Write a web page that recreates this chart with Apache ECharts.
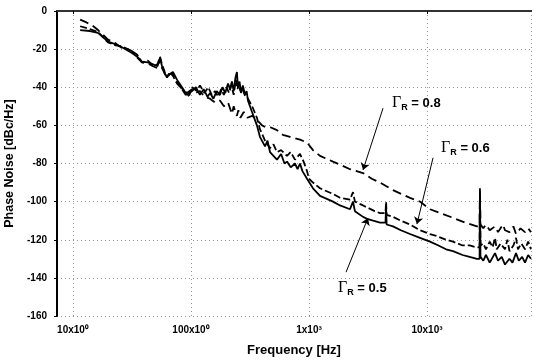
<!DOCTYPE html>
<html>
<head>
<meta charset="utf-8">
<script src="https://cdn.jsdelivr.net/npm/echarts@6/dist/echarts.min.js"></script>
<style>
  html, body { margin: 0; padding: 0; background: #fff; }
  #chart { width: 533px; height: 361px; }
</style>
</head>
<body>
<div id="chart"></div>
<script>
// Phase noise vs offset frequency, three reflection coefficients

// decade tick labels on the frequency axis
const freqTicks = [10, 100, 1000, 10000];
const freqTickLabels = ['10x10\u2070', '100x10\u2070', '1x10\u00b3', '10x10\u00b3'];

// [frequency Hz, phase noise dBc/Hz]
const gamma08 = [
  [11.5, -4.5], [13, -6], [14.5, -7.5], [16.3, -10], [19.8, -15], [23, -17], [26, -19.5],
  [29, -20], [31.6, -21], [35, -24.5], [38.4, -27], [43, -27.5], [47.6, -29], [52, -30],
  [54.6, -25], [56.8, -30], [62.6, -35], [66, -33], [70.3, -33], [76, -37], [83.9, -41],
  [92.5, -43], [102, -41], [110, -43], [119, -42], [130, -45], [145, -46], [160, -48],
  [176, -47], [190, -50], [206, -48], [214, -51], [222, -54], [230, -50], [238, -53],
  [245, -55], [252, -52], [262, -56], [280, -53], [300, -56], [330, -55], [362, -57],
  [400, -60], [430, -61], [470, -61], [535, -62.5], [600, -65], [690, -66], [839, -67.5],
  [962, -69], [1081, -73], [1240, -76], [1597, -79], [1900, -81], [2225, -83], [2870, -85],
  [3400, -88], [4000, -90], [5150, -94], [7180, -98], [8730, -100], [10600, -104],
  [13000, -106], [16600, -108.5], [21000, -111], [26500, -113], [27900, -113], [28100, -93],
  [28400, -112], [30000, -114], [31600, -112], [34000, -115], [37700, -113], [40000, -116],
  [44000, -112], [45800, -115], [50000, -116], [54000, -113], [56800, -117], [62000, -114],
  [67700, -116], [72000, -114], [76000, -116]
];

const gamma06 = [
  [11.5, -8], [13.9, -9.5], [16.3, -11], [19.8, -16.5], [23, -18], [26, -18.5], [31.6, -21],
  [35, -23], [38.4, -27], [43, -26], [47.6, -28.5], [52, -28], [54.6, -24], [56.8, -28],
  [60, -32], [62.6, -35], [66, -32], [70.3, -34], [76, -38], [83.9, -41], [88, -43],
  [92.5, -45], [97, -44], [102, -40], [112, -42], [119, -39], [130, -43], [140, -40],
  [150, -44], [160, -42], [170, -45], [180, -41], [190, -44], [200, -40], [210, -43],
  [220, -39], [230, -44], [240, -36], [248, -41], [255, -38], [262, -42], [270, -40],
  [285, -44], [304, -46], [330, -50], [362, -56], [384, -62], [424, -68], [467, -72],
  [500, -70], [535, -74], [580, -73], [651, -76], [700, -74], [760, -78], [839, -75],
  [900, -79], [962, -84], [1000, -88], [1081, -90], [1240, -93], [1597, -96], [1832, -98],
  [2225, -99], [2360, -95], [2450, -100], [2870, -102], [3100, -103], [3600, -105],
  [4000, -106], [4450, -106], [4500, -100], [4550, -107], [5150, -108], [6000, -110],
  [7180, -112], [8730, -115], [10600, -117], [12000, -118], [14500, -120], [16600, -121],
  [20000, -123], [23000, -123], [26500, -124], [27900, -124], [28100, -94], [28400, -123],
  [30000, -122], [31600, -125], [34000, -121], [36000, -124], [37700, -119], [39000, -125],
  [42000, -122], [45800, -125], [48000, -120], [50000, -126], [54000, -123], [56800, -119],
  [59000, -125], [63000, -122], [67700, -125], [72000, -121], [76000, -125]
];

const gamma05 = [
  [11.5, -10], [13.9, -10.5], [16.3, -11.5], [19.8, -16], [23, -17.5], [26, -19], [31.6, -22],
  [35, -24], [38.4, -26.5], [43, -27], [47.6, -28], [52, -29], [54.6, -24.5], [56.8, -29],
  [60, -33], [62.6, -34.5], [66, -33], [70.3, -32], [76, -36], [83.9, -40], [88, -42],
  [92.5, -44], [97, -43], [102, -42], [110, -40], [119, -44], [128, -41], [138, -45],
  [145, -43], [155, -46], [165, -42], [176, -44], [185, -40], [195, -43], [206, -38],
  [214, -41], [222, -37], [230, -42], [238, -35], [245, -32], [250, -40], [258, -37],
  [265, -43], [275, -39], [287, -44], [296, -42], [304, -47], [329, -53], [362, -60],
  [384, -66], [424, -71], [445, -68], [467, -74], [500, -76], [535, -78], [580, -75],
  [620, -80], [651, -79], [700, -82], [760, -80], [800, -83], [839, -80], [880, -84],
  [962, -88], [1000, -87], [1081, -93], [1240, -97], [1597, -100], [1832, -102],
  [2225, -104], [2360, -100], [2450, -105], [2870, -108], [3100, -109], [3500, -110],
  [4000, -111], [4450, -111], [4500, -103], [4550, -112], [5150, -113], [6000, -115],
  [7180, -117], [8730, -119], [10600, -121], [12500, -123], [14500, -125], [16600, -126],
  [20000, -128], [23000, -129], [26500, -130], [27900, -130], [28100, -96], [28400, -129],
  [30000, -131], [31600, -128], [34000, -132], [37700, -127], [40000, -131], [43000, -129],
  [45800, -133], [50000, -130], [53000, -132], [56800, -127], [60000, -131], [64000, -129],
  [67700, -132], [72000, -128], [76000, -130]
];

// annotation anchors in data space: label position, arrow start, arrow tip
const labels = [
  { name: '0.8', text: [5050, -48.3], from: [4240, -51], to: [2870, -83.4] },
  { name: '0.6', text: [13150, -72], from: [11250, -77], to: [8220, -111.8] },
  { name: '0.5', text: [1760, -145.3], from: [2060, -137], to: [3160, -108.6] }
];

const FONT = '"Liberation Sans", Arial, sans-serif';

function tickLabel(v) {
  for (let i = 0; i < freqTicks.length; i++) {
    if (Math.abs(v - freqTicks[i]) / freqTicks[i] < 1e-6) return freqTickLabels[i];
  }
  return '';
}

function annotate(item) {
  return {
    markLine: {
      silent: true,
      animation: false,
      symbol: ['none', 'arrow'],
      symbolSize: 7,
      label: { show: false },
      lineStyle: { color: '#000', width: 1, type: 'solid' },
      data: [[{ coord: item.from }, { coord: item.to }]]
    },
    markPoint: {
      silent: true,
      animation: false,
      symbolSize: 0,
      data: [{ coord: item.text }],
      label: {
        show: true,
        position: 'right',
        distance: 0,
        formatter: '{g|\u0393}{s|R}{t| = ' + item.name + '}',
        rich: {
          g: { fontFamily: '"Liberation Serif", "Times New Roman", serif', fontSize: 16, color: '#000' },
          s: { fontFamily: FONT, fontWeight: 'bold', fontSize: 9, color: '#000', padding: [9, 0, 0, 0] },
          t: { fontFamily: FONT, fontWeight: 'bold', fontSize: 13, color: '#000' }
        }
      }
    }
  };
}

const lineSeries = (data, type, item) => Object.assign({
  type: 'line',
  data: data,
  showSymbol: false,
  symbol: 'none',
  animation: false,
  lineStyle: { color: '#000', width: 1.8, type: type },
  z: 3
}, annotate(item));

const chart = echarts.init(document.getElementById('chart'));
chart.setOption({
  backgroundColor: '#fff',
  grid: { left: 57, right: 2, top: 11, bottom: 45, containLabel: false, outerBoundsMode: 'none' },
  xAxis: [
    {
      type: 'log',
      logBase: 10,
      min: 7.318,
      max: 76100,
      name: 'Frequency [Hz]',
      nameLocation: 'middle',
      nameGap: 28,
      nameTextStyle: { fontFamily: FONT, fontWeight: 'bold', fontSize: 13, color: '#000' },
      axisLine: { lineStyle: { color: '#000', width: 2 } },
      axisTick: { show: true, length: 3, lineStyle: { color: '#000' } },
      axisLabel: {
        fontFamily: FONT, fontWeight: 'bold', fontSize: 10, color: '#000', margin: 9,
        showMinLabel: false, showMaxLabel: false,
        formatter: tickLabel
      },
      splitLine: { show: true, lineStyle: { color: '#999', type: [1, 3], width: 1 } }
    },
    {
      type: 'log',
      logBase: 10,
      min: 7.318,
      max: 76100,
      position: 'top',
      axisLine: { lineStyle: { color: '#333', width: 2 } },
      axisTick: { show: false },
      axisLabel: { show: false },
      splitLine: { show: false }
    }
  ],
  yAxis: {
    type: 'value',
    min: -160,
    max: 0,
    interval: 20,
    name: 'Phase Noise [dBc/Hz]',
    nameLocation: 'middle',
    nameGap: 39,
    nameTextStyle: { fontFamily: FONT, fontWeight: 'bold', fontSize: 12.5, color: '#000' },
    axisLine: { show: true, lineStyle: { color: '#000', width: 2 } },
    axisTick: { show: true, length: 3, lineStyle: { color: '#000' } },
    axisLabel: { fontFamily: FONT, fontWeight: 'bold', fontSize: 10, color: '#000', margin: 10 },
    splitLine: { show: true, lineStyle: { color: '#999', type: [1, 3], width: 1 } }
  },
  series: [
    lineSeries(gamma08, [9, 5], labels[0]),
    lineSeries(gamma06, [7, 3], labels[1]),
    lineSeries(gamma05, 'solid', labels[2])
  ]
});
</script>
</body>
</html>
